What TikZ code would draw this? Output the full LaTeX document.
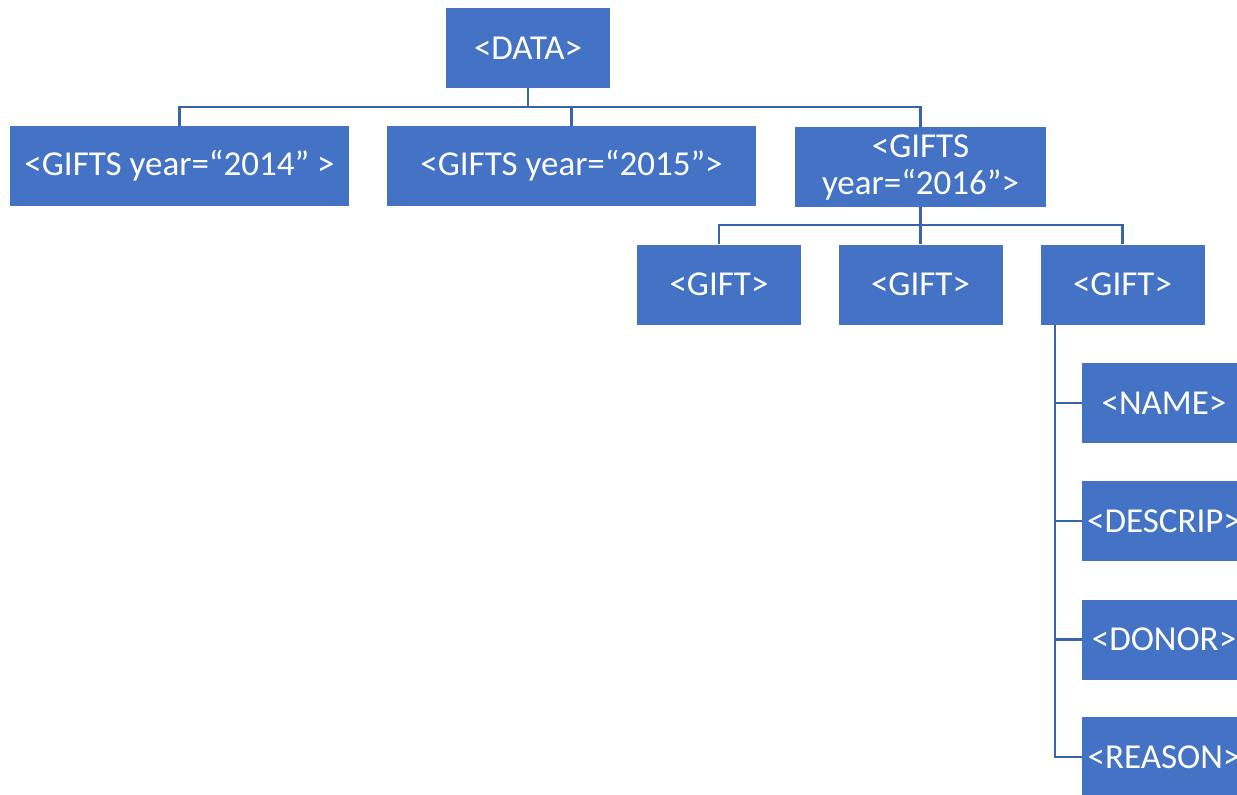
\documentclass[tikz,border=0pt]{standalone}
\usepackage{fontspec}
\setmainfont{Carlito}
\definecolor{boxblue}{RGB}{68,114,196}
\definecolor{lineblue}{RGB}{58,100,170}
\begin{document}
\begin{tikzpicture}[x=1pt,y=-1pt,
  box/.style={fill=boxblue,draw=none,text=white,minimum height=80pt,inner sep=0pt,align=center,
    font=\fontsize{35}{37}\selectfont},
  conn/.style={draw=lineblue,line width=2.8pt}]
\useasboundingbox (0,0) rectangle (1237,795);
\clip (0,0) rectangle (1237,795);
\node[box,minimum width=164pt] (data) at (528,48) {<DATA>};
\node[box,minimum width=339pt] (g14) at (179.5,166) {<GIFTS year=“2014” >};
\node[box,minimum width=369pt] (g15) at (571.5,166) {<GIFTS year=“2015”>};
\node[box,minimum width=251pt] (g16) at (920.5,167) {<GIFTS\\year=“2016”>};
\node[box,minimum width=164pt] (gift1) at (719,284.5) {<GIFT>};
\node[box,minimum width=164pt] (gift2) at (920.5,284.5) {<GIFT>};
\node[box,minimum width=164pt] (gift3) at (1122.5,284.5) {<GIFT>};
\node[box,minimum width=164pt] (name) at (1164,403) {<NAME>};
\node[box,minimum width=164pt] (descrip) at (1164,521) {<DESCRIP>};
\node[box,minimum width=164pt] (donor) at (1164,639.5) {<DONOR>};
\node[box,minimum width=164pt] (reason) at (1164,757) {<REASON>};
% level 1
\coordinate (b1) at (528,107);
\draw[conn] (data.south) -- (b1);
\draw[conn] (g14.north) -- (g14.north |- b1) -- (g16.north |- b1) -- (g16.north);
\draw[conn] (g15.north) -- (g15.north |- b1);
% level 2
\coordinate (b2) at (920.5,225);
\draw[conn] (g16.south) -- (b2);
\draw[conn] (gift1.north) -- (gift1.north |- b2) -- (gift3.north |- b2) -- (gift3.north);
\draw[conn] (gift2.north) -- (gift2.north |- b2);
% level 3
\coordinate (v) at (1055,324.5);
\draw[conn] (v) -- (v |- reason.west) -- (reason.west);
\draw[conn] (v |- name.west) -- (name.west);
\draw[conn] (v |- descrip.west) -- (descrip.west);
\draw[conn] (v |- donor.west) -- (donor.west);
\end{tikzpicture}
\end{document}
